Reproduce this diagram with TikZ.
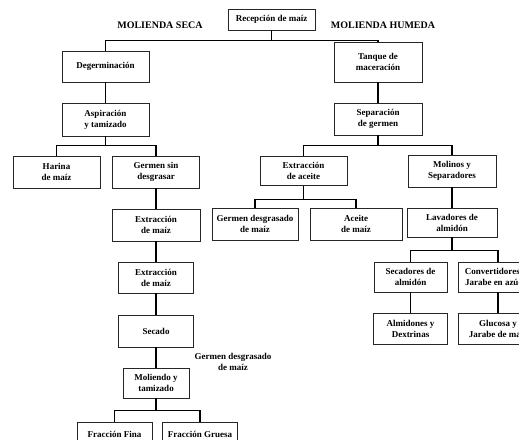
\documentclass[tikz,border=0pt]{standalone}
\usepackage{fontspec}
\setmainfont{Liberation Serif}
\begin{document}
\begin{tikzpicture}
		[x=1pt,y=-1pt,
		caja/.style={rectangle,draw=black!85,thin,fill=white,
inner sep=1pt,minimum width=87pt,minimum height=31pt,align=center,
font=\bfseries\fontsize{9}{11}\selectfont},
		titulo/.style={font=\bfseries\fontsize{10}{12}\selectfont},
		etiqueta/.style={align=center,font=\bfseries\fontsize{9}{10.5}\selectfont},
		linea/.style={-,line width=1.3pt,black}]
		\useasboundingbox (0,0) rectangle (519,439);
		\clip (0,0) rectangle (519,439);
		% cabecera
		\node at (271.5, 19.5) (recep) [caja,minimum height=21pt] {Recepción de maíz};
		\node at (160, 25) (seca) [titulo] {MOLIENDA SECA};
		\node at (383, 25) (humeda) [titulo] {MOLIENDA HUMEDA};
		% molienda seca
		\node at (105.5, 66.5) (deger) [caja] {Degerminación};
		\node at (105.5, 119.5) (aspir) [caja,minimum height=33pt] {Aspiración\\y tamizado};
		\node at (56.5, 172) (harina) [caja,minimum height=32pt] {Harina\\de maíz};
		\node at (156, 172) (germsin) [caja,minimum height=32pt] {Germen sin\\desgrasar};
		\node at (156, 225) (extruno) [caja,minimum width=88pt,minimum height=32pt] {Extracción\\de maíz};
		\node at (156, 277.5) (extrdos) [caja,minimum width=75pt] {Extracción\\de maíz};
		\node at (156, 331) (secado) [caja,minimum width=75pt,minimum height=32pt] {Secado};
		\node at (156, 383) (moliendo) [caja,minimum width=66pt,minimum height=30pt] {Moliendo y\\tamizado};
		\node at (233, 362) (germdesgiz) [etiqueta] {Germen desgrasado\\de maíz};
		\node at (114.5, 434) (fina) [caja,minimum width=75pt,minimum height=24pt] {Fracción Fina};
		\node at (200, 434) (gruesa) [caja,minimum width=75pt,minimum height=24pt] {Fracción Gruesa};
		% molienda humeda
		\node at (378, 62) (tanque) [caja,minimum width=88pt,minimum height=40pt] {Tanque de\\maceración};
		\node at (378, 119) (separ) [caja,minimum width=88pt,minimum height=32pt] {Separación\\de germen};
		\node at (303.5, 171) (aceiteextr) [caja,minimum height=29pt] {Extracción\\de aceite};
		\node at (452, 171) (molinos) [caja,minimum width=88pt,minimum height=32pt] {Molinos y\\Separadores};
		\node at (255, 224) (germdesgder) [caja,minimum width=86pt,minimum height=32pt] {Germen desgrasado\\de maíz};
		\node at (356, 224) (aceite) [caja,minimum width=92pt,minimum height=32pt] {Aceite\\de maíz};
		\node at (452, 222.5) (lavad) [caja,minimum width=90pt,minimum height=29pt] {Lavadores de\\almidón};
		\node at (410.5, 277) (secad) [caja,minimum width=73pt,minimum height=30pt] {Secadores de\\almidón};
		\node at (498, 277) (convert) [caja,minimum width=80pt,minimum height=30pt] {Convertidores de\\Jarabe en azúcar};
		\node at (410.5, 328.5) (almid) [caja,minimum width=74pt] {Almidones y\\Dextrinas};
		\node at (498, 328.5) (glucosa) [caja,minimum width=80pt] {Glucosa y\\Jarabe de maíz};
		% conectores
		\draw[linea] (recep.south) -- ++(0,10) -| (deger.north);
		\draw[linea] (recep.south) -- ++(0,10) -| (tanque.north);
		\draw[linea] (deger) -- (aspir);
		\draw[linea] (aspir.south) -- ++(0,9) -| (harina.north);
		\draw[linea] (aspir.south) -- ++(0,9) -| (germsin.north);
		\draw[linea] (germsin) -- (extruno);
		\draw[linea] (extruno) -- (extrdos);
		\draw[linea] (extrdos) -- (secado);
		\draw[linea] (secado) -- (moliendo);
		\draw[linea] (moliendo.south) -- ++(0,12) -| (fina.north);
		\draw[linea] (moliendo.south) -- ++(0,12) -| (gruesa.north);
		\draw[linea] (tanque) -- (separ);
		\draw[linea] (separ.south) -- ++(0,10) -| (aceiteextr.north);
		\draw[linea] (separ.south) -- ++(0,10) -| (molinos.north);
		\draw[linea] (aceiteextr.south) -- ++(0,13.5) -| (germdesgder.north);
		\draw[linea] (aceiteextr.south) -- ++(0,13.5) -| (aceite.north);
		\draw[linea] (molinos) -- (lavad);
		\draw[linea] (lavad.south) -- ++(0,13.5) -| (secad.north);
		\draw[linea] (lavad.south) -- ++(0,13.5) -| (convert.north);
		\draw[linea] (secad) -- (almid);
		\draw[linea] (convert) -- (glucosa);
	\end{tikzpicture}
\end{document}
